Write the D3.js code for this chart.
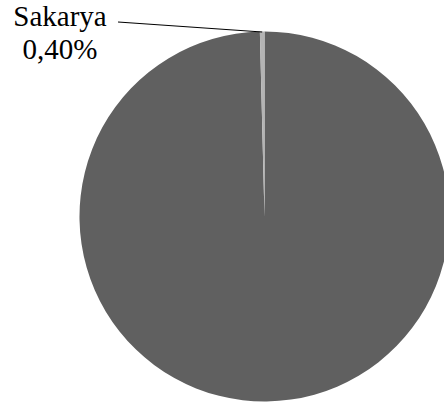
<!DOCTYPE html>
<html>
<head>
	<meta charset="utf-8">
	<title>Pie chart</title>
	<script src="https://d3js.org/d3.v7.min.js"></script>
	<style>
		body { margin: 0; padding: 0; background: #fff; }
		svg { display: block; }
		.label { font-family: "Liberation Serif", "Times New Roman", serif; font-size: 29px; fill: #000; }
	</style>
</head>
<body>
	<div id="graph"></div>
	<script>
		// data
		var categories = ["Diğer", "Sakarya"];
		var values = [99.60, 0.40];
		var labels = ["", "Sakarya"];
		var colors = ["#606060", "#b4b4b4"];

		var width = 444, height = 410;
		var cx = 264.5, cy = 216.5, radius = 185;

		var svg = d3.select("#graph").append("svg")
			.attr("width", width)
			.attr("height", height);

		var g = svg.append("g").attr("transform", "translate(" + cx + "," + cy + ")");

		var data = categories.map(function (c, i) { return { name: c, value: values[i], label: labels[i], color: colors[i] }; });

		var pie = d3.pie().sort(null).value(function (d) { return d.value; });
		var arc = d3.arc().innerRadius(0).outerRadius(radius);

		var arcs = pie(data);

		g.selectAll("path.slice")
			.data(arcs)
			.enter().append("path")
			.attr("class", "slice")
			.attr("d", arc)
			.attr("fill", function (d) { return d.data.color; });

		// label with leader line for the small slice
		var fmt = function (v) { return v.toFixed(2).replace(".", ",") + "%"; };
		var small = arcs.filter(function (d) { return d.data.label; });
		small.forEach(function (d) {
			var mid = (d.startAngle + d.endAngle) / 2;
			var px = cx + Math.sin(mid) * (radius - 0.5);
			var py = cy - Math.cos(mid) * (radius - 0.5);
			var tx = 60, ty = 26;
			svg.append("polyline")
				.attr("points", [[118, 22], [px, py]].map(function (p) { return p.join(","); }).join(" "))
				.attr("fill", "none")
				.attr("stroke", "#000")
				.attr("stroke-width", 1.2);
			svg.append("text")
				.attr("class", "label")
				.attr("x", tx).attr("y", ty)
				.attr("text-anchor", "middle")
				.text(d.data.label);
			svg.append("text")
				.attr("class", "label")
				.attr("x", tx).attr("y", ty + 33)
				.attr("text-anchor", "middle")
				.text(fmt(d.data.value));
		});
	</script>
</body>
</html>
